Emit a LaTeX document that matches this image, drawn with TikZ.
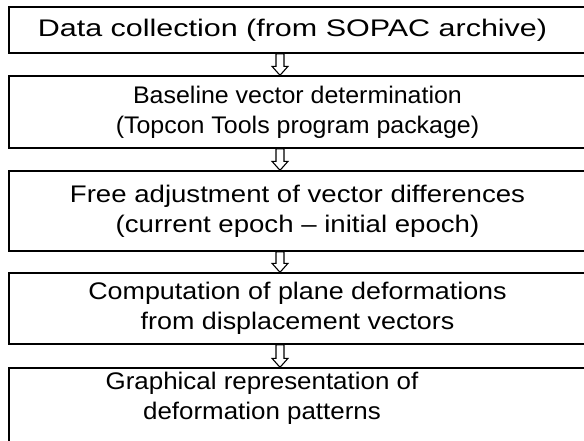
\documentclass[tikz,border=0pt]{standalone}
\usepackage{fontspec}
\setmainfont{Liberation Sans}
\newfontfamily\stretchA[FakeStretch=1.27]{Liberation Sans}
\newfontfamily\stretchB[FakeStretch=1.04]{Liberation Sans}
\newfontfamily\stretchC[FakeStretch=1.15]{Liberation Sans}
\newfontfamily\stretchD[FakeStretch=1.12]{Liberation Sans}
\newfontfamily\stretchE[FakeStretch=1.08]{Liberation Sans}
\usetikzlibrary{calc}
\tikzset{
  box/.style={draw, line width=1.4pt, minimum width=577pt, align=center, inner sep=0pt},
  boxtext/.style={align=center, inner sep=0pt},
  fsize/.style={font=#1\fontsize{24}{30}\selectfont},
  hollow/.style={draw, line width=1.1pt, fill=white, line join=miter}
}
\newcommand{\harrow}[2]{%
  \draw[hollow] let \p1=(#1.south), \p2=(#2.north) in
    (276pt,\y1) -- (284pt,\y1) -- (284pt,\y2+9pt) -- (288pt,\y2+9pt) --
    (280pt,\y2) -- (272pt,\y2+9pt) -- (276pt,\y2+9pt) -- cycle;}
\begin{document}
\begin{tikzpicture}[x=1pt,y=1pt]
\useasboundingbox (0,0) rectangle (584,-440);
\clip (0,0) rectangle (584,-440);
\node[box, fsize=\stretchA, minimum height=46pt] (b1) at (297.5,-30) {\hspace*{-10pt}Data collection (from SOPAC archive)};
\node[box, fsize=\stretchB, minimum height=72pt] (b2) at (297.5,-112) {Baseline vector determination\\(Topcon Tools program package)};
\node[box, fsize=\stretchC, minimum height=80pt] (b3) at (297.5,-211) {Free adjustment of vector differences\\(current epoch – initial epoch)};
\node[box, fsize=\stretchD, minimum height=71pt] (b4) at (297.5,-308.5) {Computation of plane deformations\\from displacement vectors};
\node[box, minimum height=92pt] (b5) at (297.5,-414) {};
\node[boxtext, fsize=\stretchE, anchor=north] (t5) at ($(b5.north)+(-35.5,-5)$) {Graphical representation of\\deformation patterns};
\harrow{b1}{b2}
\harrow{b2}{b3}
\harrow{b3}{b4}
\harrow{b4}{b5}
\end{tikzpicture}
\end{document}
